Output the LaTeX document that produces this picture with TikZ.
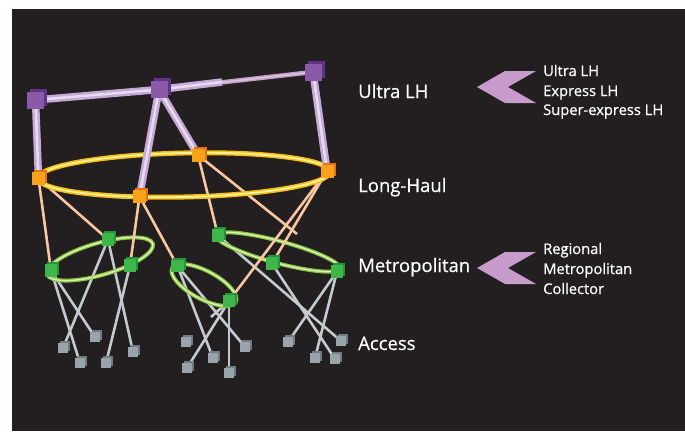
\documentclass[tikz,border=0pt]{standalone}
\usepackage{fontspec}
\setmainfont{Open Sans}[BoldFont=Open Sans, BoldFeatures={FakeBold=0.6}]
\usetikzlibrary{shadows}
\definecolor{bgdark}{HTML}{231F20}
\definecolor{ulhfront}{HTML}{8A5AA8}
\definecolor{ulhdark}{HTML}{5F3388}
\definecolor{lhfront}{HTML}{F8A21A}
\definecolor{lhdark}{HTML}{E7701A}
\definecolor{metfront}{HTML}{3FB64A}
\definecolor{metdark}{HTML}{23963A}
\definecolor{accfront}{HTML}{98A4AA}
\definecolor{accdark}{HTML}{707C82}
\definecolor{tubeout}{HTML}{C4A9D8}
\definecolor{tubein}{HTML}{E6DCEE}
\definecolor{tubethin}{HTML}{C79FCB}
\definecolor{ringy}{HTML}{F7BE12}
\definecolor{ringyin}{HTML}{FFF0A0}
\definecolor{ringg}{HTML}{86C440}
\definecolor{ringgin}{HTML}{DCF0B8}
\definecolor{peach}{HTML}{F9C6A2}
\definecolor{greyl}{HTML}{C3CBCF}
\definecolor{chev}{HTML}{C89CCA}
\begin{document}
\begin{tikzpicture}[x=1pt,y=-1pt,
  cubebase/.style={rectangle, inner sep=0pt, outer sep=0pt, draw=none},
  ulh/.style={cubebase, minimum size=17pt, fill=ulhfront,
    general shadow={fill=ulhdark, shadow xshift=3pt, shadow yshift=3pt}},
  lh/.style={cubebase, minimum size=13pt, fill=lhfront,
    general shadow={fill=lhdark, shadow xshift=2pt, shadow yshift=2pt}},
  met/.style={cubebase, minimum size=12.5pt, fill=metfront,
    general shadow={fill=metdark, shadow xshift=2pt, shadow yshift=2pt}},
  acc/.style={cubebase, minimum size=10.5pt, fill=accfront,
    general shadow={fill=accdark, shadow xshift=2pt, shadow yshift=2pt}},
  tube/.style={line width=7.5pt, draw=tubeout, postaction={draw=tubein, line width=2.5pt}},
  thintube/.style={line width=4.5pt, draw=tubethin, postaction={draw=tubein!60!tubethin, line width=1.5pt}},
  yring/.style={line width=5pt, draw=ringy, postaction={draw=ringyin, line width=1.8pt}},
  gring/.style={line width=4pt, draw=ringg, postaction={draw=ringgin, line width=1.4pt}},
  olink/.style={line width=2.6pt, draw=peach},
  glink/.style={line width=2.6pt, draw=greyl},
  lbl/.style={text=white, anchor=base west, inner sep=0pt, font=\bfseries\fontsize{18.5}{20}\selectfont},
  sublbl/.style={text=white, anchor=base west, inner sep=0pt, font=\bfseries\fontsize{14.7}{18}\selectfont},
  chevron/.style={fill=chev, draw=none}
]
\useasboundingbox (0,0) rectangle (685,431);
\fill[white] (0,0) rectangle (685,431);
\fill[bgdark] (12,9) rectangle (685,431);

% node positions
\path
  (35.5,100) coordinate (cp1) (159,89.5) coordinate (cp2) (313,72) coordinate (cp3)
  (38.5,178.5) coordinate (co1) (139.5,196.5) coordinate (co2) (198,155) coordinate (co3) (327,171) coordinate (co4)
  (51,270.5) coordinate (cg1) (108,239.5) coordinate (cg2) (130,265.5) coordinate (cg3)
  (177.5,266) coordinate (cg4) (229,301) coordinate (cg5)
  (218,235.5) coordinate (cg6) (272,263.5) coordinate (cg7) (337,271.5) coordinate (cg8);
\coordinate (s1) at (297,234);
\coordinate (s2) at (211,317);
\coordinate (m23) at (222,82);

\path (63,348) coordinate (ca1) (80,363) coordinate (ca2) (95,337) coordinate (ca3)
  (106,363) coordinate (ca4) (133,352) coordinate (ca5) (186,342) coordinate (ca6)
  (187,368) coordinate (ca7) (213,358) coordinate (ca8) (229,373) coordinate (ca9)
  (245,347) coordinate (ca10) (288,342) coordinate (ca11) (315,358) coordinate (ca12)
  (335,359) coordinate (ca13) (341,341) coordinate (ca14);

% grey access links
\draw[glink] (cg1) -- (ca2);
\draw[glink] (cg1) -- (ca3);
\draw[glink] (cg2) -- (ca1);
\draw[glink] (cg2) -- (ca5);
\draw[glink] (cg3) -- (ca4);
\draw[glink] (cg4) -- (ca8);
\draw[glink] (cg4) -- (ca10);
\draw[glink] (cg5) -- (ca7);
\draw[glink] (cg5) -- (ca9);
\draw[glink] (cg5) -- (s2);
\draw[glink] (cg6) -- (ca14);
\draw[glink] (cg7) -- (ca13);
\draw[glink] (cg8) -- (ca11);
\draw[glink] (cg8) -- (ca12);

% metro rings
\draw[gring, rotate around={16:(100,259)}] (100,259) ellipse [x radius=55pt, y radius=16pt];
\draw[gring, rotate around={-28:(204,285)}] (204,285) ellipse [x radius=36pt, y radius=14pt];
\draw[gring, rotate around={-15:(278,252)}] (278,252) ellipse [x radius=64pt, y radius=11pt];

% long-haul to metro links
\draw[olink] (co1) -- (cg1);
\draw[olink] (co1) -- (cg2);
\draw[olink] (co2) -- (cg3);
\draw[olink] (co2) -- (cg4);
\draw[olink] (co3) -- (cg6);
\draw[olink] (co3) -- (s1);
\draw[olink] (co4) -- (cg7);
\draw[olink] (co4) -- (cg5);

% long-haul ring
\draw[yring, rotate around={1.3:(184,175)}] (184,175) ellipse [x radius=146pt, y radius=22pt];

% ultra LH tubes
\draw[thintube] (cp2) -- (cp3);
\draw[tube] (cp2) -- (m23);
\draw[tube] (cp1) -- (cp2);
\draw[tube] (cp1) -- (co1);
\draw[tube] (cp2) -- (co2);
\draw[tube] (cp2) -- (co3);
\draw[tube] (cp3) -- (co4);

% cubes
\node[ulh] (p1) at (cp1) {};
\node[ulh] (p2) at (cp2) {};
\node[ulh] (p3) at (cp3) {};
\node[lh] (o1) at (co1) {};
\node[lh] (o2) at (co2) {};
\node[lh] (o3) at (co3) {};
\node[lh] (o4) at (co4) {};
\foreach \i in {1,...,8} { \node[met] (g\i) at (cg\i) {}; }
\foreach \i in {1,...,14} { \node[acc] (a\i) at (ca\i) {}; }

% labels
\node[lbl] (tulh) at (358,98) {Ultra LH};
\node[lbl] (tlh) at (358,192) {Long-Haul};
\node[lbl] (tmet) at (358,272) {Metropolitan};
\node[lbl] (tacc) at (358,350) {Access};

\node[sublbl] (u1) at (543,76) {Ultra LH};
\node[sublbl] (u2) at (543,96) {Express LH};
\node[sublbl] (u3) at (543,115) {Super-express LH};
\node[sublbl] (r1) at (543,254) {Regional};
\node[sublbl] (r2) at (543,274) {Metropolitan};
\node[sublbl] (r3) at (543,294) {Collector};

% chevrons
\fill[chevron] (477,87) -- (505,71) -- (536,71) -- (508,87) -- (536,103) -- (505,103) -- cycle;
\fill[chevron] (477,268) -- (505,252) -- (536,252) -- (508,268) -- (536,284) -- (505,284) -- cycle;
\end{tikzpicture}
\end{document}
